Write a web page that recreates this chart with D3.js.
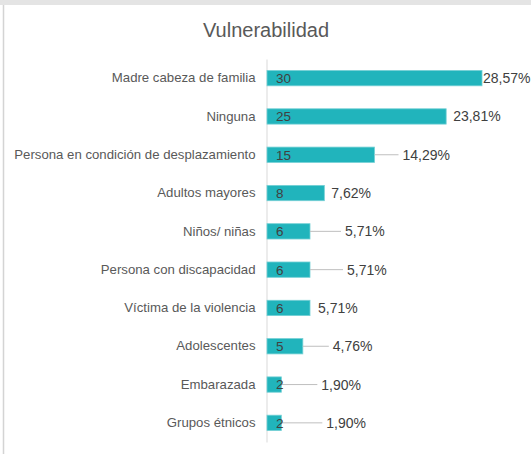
<!DOCTYPE html>
<html>
<head>
<meta charset="utf-8">
<script src="https://cdn.jsdelivr.net/npm/d3@7/dist/d3.min.js"></script>
<style>
  html, body { margin: 0; padding: 0; background: #fff; }
  svg { display: block; }
</style>
</head>
<body>
<svg id="chart" width="531" height="454"></svg>
<script>
// Vulnerability categories, counts and share of total
const categories = [
  "Madre cabeza de familia",
  "Ninguna",
  "Persona en condición de desplazamiento",
  "Adultos mayores",
  "Niños/ niñas",
  "Persona con discapacidad",
  "Víctima de la violencia",
  "Adolescentes",
  "Embarazada",
  "Grupos étnicos"
];
const counts = [30, 25, 15, 8, 6, 6, 6, 5, 2, 2];
const percents = [28.57, 23.81, 14.29, 7.62, 5.71, 5.71, 5.71, 4.76, 1.90, 1.90];

// Horizontal offset of each percent label from its bar end (leader line fills the gap)
const pctOffsets = [1, 7, 28, 7, 35, 37, 8, 30, 40, 45];

const svg = d3.select("#chart");
const textColor = "#595959";
const valueColor = "#404040";
const font = "'Liberation Sans', Arial, sans-serif";

// Frame
svg.append("rect").attr("x", 0).attr("y", 0).attr("width", 531).attr("height", 5).attr("fill", "#e4e4e4");
svg.append("line").attr("x1", 3.5).attr("x2", 3.5).attr("y1", 5).attr("y2", 454)
  .attr("stroke", "#d4d4d4").attr("stroke-width", 1.5);

// Title
svg.append("text")
  .attr("x", 266).attr("y", 37)
  .attr("text-anchor", "middle")
  .attr("font-family", font).attr("font-size", 20)
  .attr("fill", textColor)
  .text("Vulnerabilidad");

const x = d3.scaleLinear().domain([0, 30]).range([267, 482]);
const y = d3.scaleBand().domain(categories).range([59, 442]).paddingInner(0.6).paddingOuter(0.3);

const rows = categories.map((c, i) => ({ c, v: counts[i], p: percents[i], dx: pctOffsets[i] }));

// Category axis
const yAxis = svg.append("g")
  .attr("transform", `translate(${x(0) - 0.5},0)`)
  .call(d3.axisLeft(y).tickSize(0).tickPadding(11));
yAxis.select(".domain").attr("stroke", "#d9d9d9");
yAxis.selectAll("text")
  .attr("font-family", font).attr("font-size", 13.2)
  .attr("fill", textColor);

// Bars
svg.append("g").selectAll("rect")
  .data(rows).join("rect")
  .attr("x", x(0))
  .attr("y", d => y(d.c))
  .attr("width", d => x(d.v) - x(0))
  .attr("height", y.bandwidth())
  .attr("fill", "#21b4bc")
  .attr("stroke", "#74d0d5")
  .attr("stroke-width", 0.8);

// Leader lines
const fmtPct = d => d.toFixed(2).replace(".", ",") + "%";
svg.append("g").selectAll("line")
  .data(rows.filter(d => d.dx > 15)).join("line")
  .attr("x1", d => x(d.v))
  .attr("x2", d => x(d.v) + d.dx - 4)
  .attr("y1", d => y(d.c) + y.bandwidth() / 2)
  .attr("y2", d => y(d.c) + y.bandwidth() / 2)
  .attr("stroke", "#bfbfbf").attr("stroke-width", 1);

// Count labels inside bars
svg.append("g").selectAll("text")
  .data(rows).join("text")
  .attr("x", x(0) + 9)
  .attr("y", d => y(d.c) + y.bandwidth() / 2)
  .attr("dy", "0.36em")
  .attr("font-family", font).attr("font-size", 13.5)
  .attr("fill", valueColor)
  .text(d => d.v);

// Percent labels
svg.append("g").selectAll("text")
  .data(rows).join("text")
  .attr("x", d => x(d.v) + d.dx)
  .attr("y", d => y(d.c) + y.bandwidth() / 2)
  .attr("dy", "0.36em")
  .attr("font-family", font).attr("font-size", 14)
  .attr("fill", valueColor)
  .text(d => fmtPct(d.p));
</script>
</body>
</html>
